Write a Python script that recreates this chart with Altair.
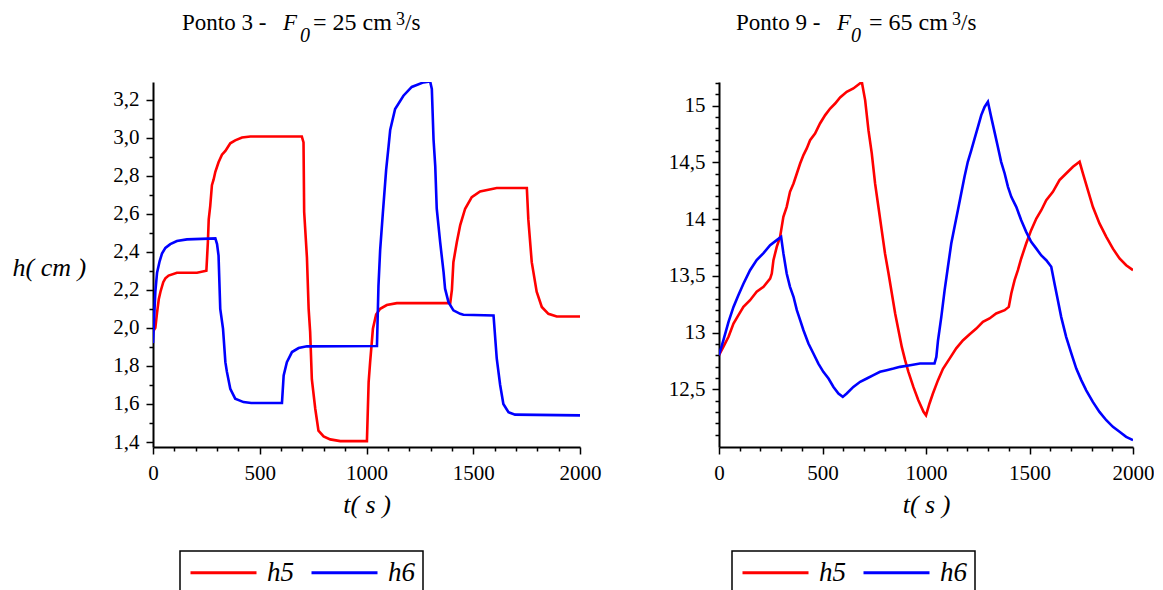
import altair as alt
import pandas as pd

# ---------------- data ----------------
SERIES = ["h5", "h6"]
COLORS = ["#ff0000", "#0000ff"]

X_TICKS = list(range(0, 2001, 100))
P3_Y_TICKS = [round(1.4 + 0.1 * i, 1) for i in range(19)]   # 1.4 .. 3.2
P9_Y_TICKS = [round(12.1 + 0.1 * i, 1) for i in range(32)]  # 12.1 .. 15.2

# Ponto 3 (t [s], h [cm])
P3_H5 = [(0, 1.98), (11, 2.00), (19, 2.08), (27, 2.15), (35, 2.19), (48, 2.24), (58, 2.26),
         (73, 2.275), (112, 2.29), (206, 2.29), (250, 2.30), (257, 2.45), (261, 2.57),
         (268, 2.64), (276, 2.75), (284, 2.78), (292, 2.82), (307, 2.87), (323, 2.91),
         (339, 2.93), (362, 2.97), (385, 2.985), (417, 3.00), (456, 3.006), (697, 3.006),
         (705, 2.975), (708, 2.61), (721, 2.37), (729, 2.10), (736, 1.98), (744, 1.73),
         (760, 1.575), (775, 1.46), (799, 1.43), (830, 1.414), (877, 1.405), (1002, 1.405),
         (1010, 1.715), (1017, 1.82), (1030, 1.995), (1045, 2.07), (1064, 2.10), (1095, 2.12),
         (1142, 2.13), (1392, 2.13), (1400, 2.20), (1407, 2.345), (1423, 2.45), (1439, 2.54),
         (1462, 2.626), (1493, 2.687), (1532, 2.717), (1610, 2.735), (1751, 2.735),
         (1758, 2.57), (1774, 2.345), (1797, 2.19), (1821, 2.11), (1852, 2.074), (1891, 2.06),
         (2000, 2.06)]
P3_H6 = [(0, 1.92), (4, 2.02), (11, 2.19), (19, 2.29), (31, 2.35), (42, 2.39), (58, 2.42),
         (81, 2.44), (112, 2.456), (159, 2.465), (292, 2.47), (300, 2.44), (307, 2.38),
         (315, 2.10), (328, 1.995), (339, 1.82), (346, 1.77), (362, 1.68), (385, 1.628),
         (424, 1.61), (460, 1.605), (604, 1.605), (612, 1.75), (627, 1.82), (651, 1.873),
         (682, 1.894), (721, 1.903), (1049, 1.905), (1056, 2.22), (1064, 2.41), (1077, 2.61),
         (1092, 2.83), (1103, 2.95), (1111, 3.04), (1134, 3.15), (1173, 3.22), (1212, 3.266),
         (1267, 3.29), (1298, 3.295), (1306, 3.256), (1314, 2.99), (1322, 2.85), (1329, 2.626),
         (1345, 2.45), (1361, 2.293), (1368, 2.206), (1384, 2.135), (1407, 2.092),
         (1439, 2.074), (1454, 2.069), (1595, 2.065), (1610, 1.84), (1626, 1.70), (1641, 1.60),
         (1665, 1.557), (1696, 1.544), (2000, 1.54)]

# Ponto 9
P9_H5 = [(0, 12.80), (21, 12.873), (46, 12.962), (70, 13.079), (94, 13.153), (118, 13.226),
         (150, 13.285), (182, 13.359), (215, 13.403), (247, 13.476), (255, 13.52),
         (263, 13.638), (279, 13.756), (295, 13.844), (303, 13.932), (311, 14.021),
         (327, 14.109), (343, 14.241), (360, 14.315), (376, 14.403), (392, 14.491),
         (408, 14.565), (424, 14.624), (440, 14.697), (464, 14.756), (488, 14.844),
         (513, 14.918), (537, 14.976), (561, 15.02), (585, 15.074), (617, 15.124),
         (649, 15.153), (690, 15.21), (706, 15.05), (722, 14.785), (738, 14.58),
         (754, 14.315), (770, 14.109), (786, 13.903), (802, 13.697), (819, 13.52),
         (835, 13.344), (851, 13.168), (867, 13.02), (883, 12.873), (899, 12.756),
         (915, 12.653), (939, 12.52), (963, 12.403), (988, 12.30), (1000, 12.27),
         (1017, 12.374), (1033, 12.46), (1058, 12.58), (1082, 12.68), (1114, 12.77),
         (1146, 12.86), (1178, 12.93), (1211, 12.985), (1243, 13.035), (1275, 13.094),
         (1307, 13.124), (1339, 13.168), (1380, 13.197), (1400, 13.226), (1412, 13.344),
         (1428, 13.462), (1444, 13.55), (1460, 13.653), (1484, 13.785), (1508, 13.903),
         (1533, 14.006), (1557, 14.079), (1581, 14.168), (1613, 14.241), (1645, 14.344),
         (1677, 14.403), (1710, 14.462), (1742, 14.506), (1758, 14.403), (1782, 14.256),
         (1806, 14.109), (1838, 13.962), (1871, 13.844), (1903, 13.74), (1935, 13.653),
         (1967, 13.594), (2000, 13.55)]
P9_H6 = [(0, 12.80), (21, 12.93), (46, 13.094), (70, 13.226), (94, 13.33), (118, 13.43),
         (150, 13.55), (182, 13.64), (215, 13.70), (247, 13.77), (279, 13.815), (300, 13.844),
         (311, 13.70), (327, 13.52), (343, 13.403), (360, 13.315), (376, 13.197),
         (392, 13.109), (408, 13.02), (432, 12.903), (456, 12.815), (480, 12.726),
         (504, 12.653), (529, 12.594), (553, 12.52), (577, 12.462), (598, 12.432),
         (617, 12.462), (649, 12.52), (682, 12.565), (714, 12.594), (746, 12.624),
         (778, 12.653), (810, 12.668), (843, 12.682), (875, 12.697), (923, 12.712),
         (971, 12.726), (1041, 12.726), (1050, 12.785), (1058, 12.93), (1074, 13.138),
         (1090, 13.374), (1106, 13.58), (1122, 13.785), (1138, 13.932), (1154, 14.079),
         (1170, 14.226), (1186, 14.374), (1202, 14.506), (1219, 14.609), (1235, 14.712),
         (1251, 14.815), (1267, 14.918), (1283, 14.99), (1299, 15.035), (1315, 14.90),
         (1331, 14.77), (1347, 14.638), (1363, 14.506), (1380, 14.403), (1396, 14.285),
         (1412, 14.197), (1436, 14.109), (1460, 13.99), (1484, 13.888), (1508, 13.80),
         (1533, 13.74), (1557, 13.68), (1581, 13.638), (1605, 13.58), (1621, 13.43),
         (1637, 13.285), (1653, 13.138), (1677, 12.962), (1702, 12.815), (1726, 12.682),
         (1750, 12.58), (1774, 12.49), (1806, 12.388), (1838, 12.30), (1871, 12.226),
         (1903, 12.168), (1935, 12.124), (1967, 12.08), (2000, 12.05)]

# title pieces: text, x, y (relative to plot area), style, size
TITLE_P3 = [("Ponto 3 -", 29, -52, "normal", 23), ("F", 130, -52, "italic", 23),
            ("0", 147, -40, "italic", 20), ("= 25 cm", 160, -52, "normal", 24),
            ("3", 243, -57, "normal", 18), ("/s", 252, -52, "normal", 23)]
TITLE_P9 = [("Ponto 9 -", 17, -52, "normal", 23), ("F", 118, -52, "italic", 23),
            ("0", 132, -40, "italic", 20), ("= 65 cm", 150, -52, "normal", 24),
            ("3", 233, -57, "normal", 18), ("/s", 242, -52, "normal", 23)]

SERIF = "'Liberation Serif', 'Times New Roman', 'DejaVu Serif', serif"


def make_df(h5, h6):
    rows = []
    for name, pts in zip(SERIES, [h5, h6]):
        for i, (t, h) in enumerate(pts):
            rows.append({"t": t, "h": h, "serie": name, "i": i})
    return pd.DataFrame(rows)


def panel(df, width, ydom, yticks, ymajor, yfmt, title_parts, ytitle, legend_x):
    xaxis = alt.Axis(
        values=X_TICKS,
        labelExpr="datum.value % 500 == 0 ? format(datum.value, 'd') : ''",
        tickSize={"condition": {"test": "datum.value % 500 == 0", "value": 7}, "value": 4},
        title="t( s )", titleFont=SERIF, titleFontStyle="italic", titleFontSize=26,
        titleFontWeight="normal", titleColor="black", titleBaseline="alphabetic", titleY=65,
        labelFlush=False, labelOverlap=False, labelPadding=8, grid=False,
    )
    ytest = f"round(datum.value*10) % {ymajor} == 0"
    yargs = dict(
        values=yticks,
        labelExpr=f"{ytest} ? replace(format(datum.value, '{yfmt}'), '.', ',') : ''",
        tickSize={"condition": {"test": ytest, "value": 7}, "value": 4},
        labelOverlap=False, labelFlush=False, labelPadding=7, grid=False,
    )
    if ytitle:
        yaxis = alt.Axis(title=ytitle, titleFont=SERIF, titleFontStyle="italic", titleFontSize=26,
                         titleFontWeight="normal", titleColor="black", titleAngle=0,
                         titleAlign="left", titleBaseline="middle", titleX=-141, titleY=185,
                         **yargs)
    else:
        yaxis = alt.Axis(title=None, **yargs)

    lines = alt.Chart(df).mark_line(strokeWidth=2.6, clip=True).encode(
        x=alt.X("t:Q", scale=alt.Scale(domain=[0, 2000], nice=False), axis=xaxis),
        y=alt.Y("h:Q", scale=alt.Scale(domain=ydom, nice=False, zero=False), axis=yaxis),
        color=alt.Color("serie:N", scale=alt.Scale(domain=SERIES, range=COLORS),
                        legend=alt.Legend(
                            orient="none", legendX=legend_x, legendY=469, direction="horizontal",
                            title=None, strokeColor="black", padding=8,
                            symbolType="M-1,0H5", symbolSize=484, symbolStrokeWidth=3,
                            labelOffset=52, columnPadding=11, labelFont=SERIF,
                            labelFontStyle="italic", labelFontSize=27, labelColor="black")),
        order="i:Q",
    )
    layers = [lines]
    one = pd.DataFrame({"k": [0]})
    for text, px, py, style, size in title_parts:
        layers.append(
            alt.Chart(one).mark_text(text=text, align="left", baseline="alphabetic", font=SERIF,
                                     fontSize=size, fontStyle=style, color="black")
            .encode(x=alt.value(px), y=alt.value(py))
        )
    return alt.layer(*layers).properties(width=width, height=365)


left = panel(make_df(P3_H5, P3_H6), 427, [1.374, 3.292], P3_Y_TICKS, 2, ".1f",
             TITLE_P3, "h( cm )", 27)
right = panel(make_df(P9_H5, P9_H6), 414, [11.99, 15.21], P9_Y_TICKS, 5, ".1~f",
              TITLE_P9, None, 13)

chart = (
    alt.hconcat(left, right, spacing=67)
    .resolve_scale(color="independent", x="independent", y="independent")
    .properties(padding={"left": 4, "top": 3, "right": 0, "bottom": 0})
    .configure_view(strokeWidth=0)
    .configure_axis(domainColor="black", domainWidth=2, tickColor="black", tickWidth=1.5,
                    labelFont=SERIF, labelFontSize=21, labelColor="black")
    .configure_legend(strokeWidth=1.5)
)

chart.save("out.html", embed_options={"renderer": "svg", "actions": False})
